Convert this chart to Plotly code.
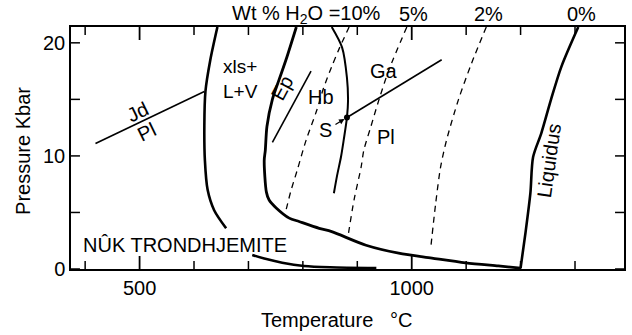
import plotly.graph_objects as go

# ---- data (T in deg C, P in kbar) ----
xls_left_T = [643, 630, 621, 619, 620, 625, 637, 659]
xls_left_P = [21.4, 18.5, 15.7, 12.7, 9.6, 7.0, 5.2, 3.6]

lower_T = [707, 733, 762, 802, 850, 935]
lower_P = [1.24, 0.88, 0.56, 0.27, 0.15, 0.08]

solidus_T = [788, 769, 756, 744, 734, 731, 729, 733, 738, 751, 775, 793, 830, 853, 916, 976, 1037, 1099, 1159, 1200]
solidus_P = [21.4, 18.5, 16.7, 15.0, 12.6, 10.5, 9.6, 6.8, 6.1, 5.4, 4.5, 4.2, 3.6, 3.3, 2.1, 1.4, 0.97, 0.55, 0.27, 0.08]

liquidus_T = [1306, 1275, 1256, 1238, 1223, 1218, 1209, 1200]
liquidus_P = [21.4, 17.9, 15.0, 12.0, 9.9, 6.7, 3.2, 0.08]

hb_T = [853, 872, 881, 883, 881, 875, 870, 863, 857]
hb_P = [21.4, 19.6, 16.9, 14.9, 13.4, 11.4, 9.9, 8.3, 6.7]

s_T = [881]
s_P = [13.4]

ga_pl_T = [881, 1055]
ga_pl_P = [13.4, 18.5]

ep_T = [744, 815]
ep_P = [11.2, 17.5]

jd_T = [419, 619]
jd_P = [11.1, 15.7]

h2o10_T = [885, 866, 853, 838, 826, 806, 790, 778, 769]
h2o10_P = [21.4, 19.4, 17.9, 16.0, 14.1, 11.4, 8.8, 6.9, 5.2]

h2o5_T = [991, 958, 940, 925, 912, 907, 894, 883]
h2o5_P = [21.4, 17.6, 15.0, 12.6, 10.5, 9.0, 6.1, 2.9]

h2o2_T = [1137, 1110, 1086, 1064, 1053, 1044, 1035]
h2o2_P = [21.4, 18.2, 15.0, 11.4, 9.0, 5.8, 1.9]

x_range = [374, 1390]
y_range = [0, 21.4]
x_tickvals = [500, 1000]
x_minor_vals = [v for v in range(400, 1400, 100) if v not in x_tickvals]
y_tickvals = [0, 10, 20]
y_minor_vals = [5, 15]

FONT = "Liberation Sans, Arial, Helvetica, sans-serif"

W, H = 632, 335
ML, MR, MT, MB = 71, 6, 27, 66
PW, PH = W - ML - MR, H - MT - MB
DX = (x_range[1] - x_range[0]) / PW
DY = (y_range[1] - y_range[0]) / PH

fig = go.Figure()

def curve(T, P, width, dash="solid", shape="spline"):
    fig.add_trace(go.Scatter(x=T, y=P, mode="lines",
                             line=dict(color="black", width=width, dash=dash, shape=shape,
                                       smoothing=0.8),
                             hoverinfo="skip", showlegend=False, cliponaxis=False))

curve(xls_left_T, xls_left_P, 2.6)
curve(lower_T, lower_P, 2.6)
curve(solidus_T, solidus_P, 2.8)
curve(liquidus_T, liquidus_P, 2.6)
curve(hb_T, hb_P, 2.0)
curve(ga_pl_T, ga_pl_P, 1.6, shape="linear")
curve(ep_T, ep_P, 1.6, shape="linear")
curve(jd_T, jd_P, 1.6, shape="linear")
curve(h2o10_T, h2o10_P, 1.3, dash="6px,5px")
curve(h2o5_T, h2o5_P, 1.3, dash="6px,5px")
curve(h2o2_T, h2o2_P, 1.3, dash="6px,5px")

fig.add_trace(go.Scatter(x=s_T, y=s_P, mode="markers",
                         marker=dict(color="black", size=6),
                         hoverinfo="skip", showlegend=False))

# inside, mirrored tick marks built from the tick value lists
def tick_seg(xs, ys, width):
    fig.add_trace(go.Scatter(x=xs, y=ys, mode="lines",
                             line=dict(color="black", width=width),
                             hoverinfo="skip", showlegend=False))

def xticks(vals, length_px, width):
    L = length_px * DY
    for v in vals:
        tick_seg([v, v], [y_range[0], y_range[0] + L], width)
        tick_seg([v, v], [y_range[1], y_range[1] - L], width)

def yticks(vals, length_px, width):
    L = length_px * DX
    for v in vals:
        tick_seg([x_range[0], x_range[0] + L], [v, v], width)
        tick_seg([x_range[1], x_range[1] - L], [v, v], width)

xticks(x_tickvals, 13, 1.8)
xticks(x_minor_vals, 8, 1.5)
yticks(y_tickvals + y_minor_vals, 9, 1.5)

ann = []
def label(text, x, y, size=20, angle=0, xanchor="center", yanchor="middle", **kw):
    ann.append(dict(text=text, x=x, y=y, xref="x", yref="y", showarrow=False,
                    textangle=angle, xanchor=xanchor, yanchor=yanchor,
                    font=dict(family=FONT, size=size, color="black"), **kw))

label("Jd", 496, 13.9, angle=-26)
label("Pl", 513, 12.1, angle=-26)
label("xls+<br>L+V", 650, 16.8, size=19, xanchor="left", align="left")
label("Ep", 762, 16.0, angle=-62)
label("Hb", 833, 15.2)
label("Ga", 949, 17.5)
label("S", 842, 12.3)
label("Pl", 952, 11.7)
label("Liquidus", 1253, 9.6, angle=-82)
label("NÛK TRONDHJEMITE", 584, 2.1)

# arrow S -> point
ann.append(dict(x=s_T[0], y=s_P[0], xref="x", yref="y", ax=-13, ay=8,
                showarrow=True, arrowhead=2, arrowsize=0.9, arrowwidth=1.2,
                arrowcolor="black", standoff=3, text=""))

def toplabel(text, x, xanchor="center"):
    ann.append(dict(text=text, x=x, y=1, xref="x", yref="paper", yshift=13,
                    showarrow=False, xanchor=xanchor, yanchor="middle",
                    font=dict(family=FONT, size=20, color="black")))

toplabel("Wt % H<sub>2</sub>O =10%", 947, xanchor="right")
toplabel("5%", 1004)
toplabel("2%", 1141)
toplabel("0%", 1311)

ann.append(dict(text="Temperature   °C", x=0.481, y=0, xref="paper", yref="paper",
                yshift=-51, showarrow=False, xanchor="center", yanchor="middle",
                font=dict(family=FONT, size=20, color="black")))
ann.append(dict(text="Pressure Kbar", x=0, y=0.488, xref="paper", yref="paper",
                xshift=-48, showarrow=False, textangle=-90, xanchor="center",
                yanchor="middle", font=dict(family=FONT, size=20, color="black")))

fig.update_layout(
    width=W, height=H,
    margin=dict(l=ML, r=MR, t=MT, b=MB),
    paper_bgcolor="white", plot_bgcolor="white",
    font=dict(family=FONT, size=20, color="black"),
    annotations=ann,
    showlegend=False,
)
fig.update_xaxes(range=x_range, showgrid=False, zeroline=False,
                 showline=True, linecolor="black", linewidth=1.5, mirror=True,
                 tickmode="array", tickvals=x_tickvals, ticks="",
                 tickfont=dict(family=FONT, size=20))
fig.update_yaxes(range=y_range, showgrid=False, zeroline=False,
                 showline=True, linecolor="black", linewidth=1.5, mirror=True,
                 tickmode="array", tickvals=y_tickvals, ticks="",
                 tickfont=dict(family=FONT, size=20))

fig.write_html("out.html")
